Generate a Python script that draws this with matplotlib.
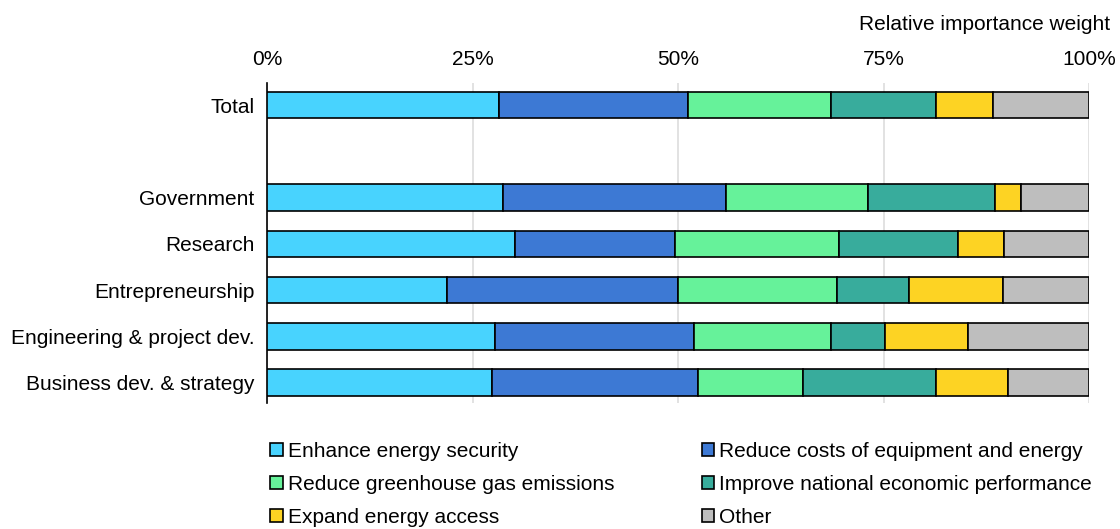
import matplotlib.pyplot as plt
import numpy as np

plt.rcParams['font.family'] = ['Liberation Sans', 'DejaVu Sans']

# groups (blank slot between Total and the rest)
groups = ["Total", "", "Government", "Research", "Entrepreneurship",
          "Engineering & project dev.", "Business dev. & strategy"]

series = ["Enhance energy security", "Reduce costs of equipment and energy",
          "Reduce greenhouse gas emissions", "Improve national economic performance",
          "Expand energy access", "Other"]

energy_security = [28.2, 0, 28.7, 30.2, 21.9, 27.7, 27.4]
reduce_costs    = [23.0, 0, 27.1, 19.4, 28.1, 24.2, 25.0]
reduce_ghg      = [17.4, 0, 17.3, 20.0, 19.3, 16.7, 12.8]
economic_perf   = [12.8, 0, 15.5, 14.5,  8.8,  6.6, 16.2]
energy_access   = [ 6.9, 0,  3.1,  5.6, 11.4, 10.1,  8.7]
other           = [11.7, 0,  8.3, 10.3, 10.5, 14.7,  9.9]

colors = ["#48D3FE", "#3D79D4", "#66F29A", "#38AC9C", "#FDD323", "#BEBEBE"]

values = [energy_security, reduce_costs, reduce_ghg, economic_perf, energy_access, other]

fig = plt.figure(figsize=(11.2, 5.29), dpi=100)
ax = fig.add_axes([267/1120, 1 - 403/529, (1089-267)/1120, (403-83)/529])

y = np.arange(len(groups))
left = np.zeros(len(groups))
for name, vals, col in zip(series, values, colors):
    vals = np.array(vals, dtype=float)
    mask = vals > 0
    ax.barh(y[mask], vals[mask], left=left[mask], height=0.57, color=col,
            edgecolor="black", linewidth=1.2, label=name, zorder=3)
    left += vals

ax.set_xlim(0, 100)
ax.set_ylim(6.44, -0.476)
ax.set_yticks(y)
ax.set_yticklabels(groups, fontsize=15)
ax.set_xticks([0, 25, 50, 75, 100])
ax.set_xticklabels(["0%", "25%", "50%", "75%", "100%"], fontsize=15)
ax.xaxis.tick_top()
ax.tick_params(axis="y", length=0, pad=9)
ax.tick_params(axis="x", length=0, pad=10)
ax.grid(axis="x", color="#DDDDDD", linewidth=1.2, zorder=0)
for s in ["top", "right", "bottom"]:
    ax.spines[s].set_visible(False)
ax.spines["left"].set_linewidth(1.2)

fig.text(1110/1120, 1 - 24/529, "Relative importance weight", ha="right", va="center", fontsize=15)

handles, labels = ax.get_legend_handles_labels()
order = [0, 2, 4, 1, 3, 5]
leg = fig.legend([handles[i] for i in order], [labels[i] for i in order],
                 ncol=2, loc="upper left", bbox_to_anchor=(270/1120, 1 - 442/529),
                 frameon=False, fontsize=15, handlelength=0.6, handleheight=0.6,
                 handletextpad=0.25, columnspacing=4.2, labelspacing=0.67,
                 borderaxespad=0, borderpad=0)

fig.savefig("out.png", dpi=100)
